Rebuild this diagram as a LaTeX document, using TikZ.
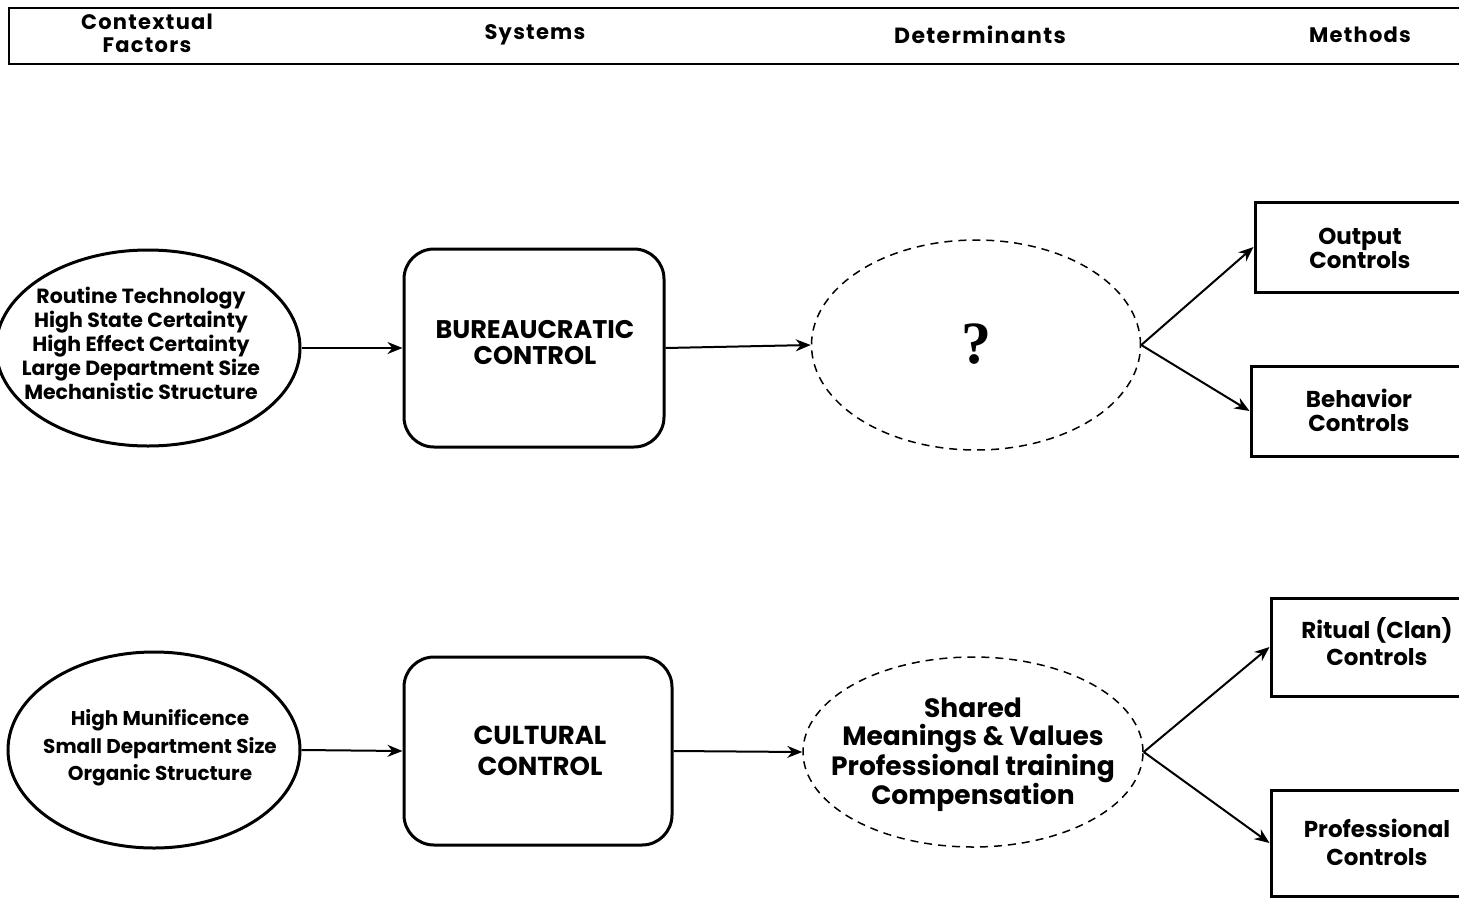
\documentclass[tikz,border=0pt]{standalone}
\usepackage{fontspec}
\setmainfont{Poppins}
\newfontfamily\qfont{Liberation Serif}
\newfontfamily\widefont[LetterSpace=6]{Poppins}
\usetikzlibrary{shapes.geometric,arrows.meta}
\tikzset{
  txt/.style={inner sep=0, align=center},
  hdr/.style={txt, font=\widefont\bfseries\fontsize{21}{23}\selectfont},
  ctx/.style={ellipse, draw, line width=3pt, inner sep=0},
  ctxtext/.style={txt, font=\bfseries\fontsize{20.5}{24}\selectfont},
  sysbox/.style={draw, line width=3pt, rounded corners=30pt, inner sep=0},
  systext/.style={txt, font=\bfseries\fontsize{25.5}{26}\selectfont},
  det/.style={ellipse, draw, dashed, dash pattern=on 8pt off 6pt, line width=1.5pt, inner sep=0},
  meth/.style={draw, line width=3pt, inner sep=0},
  methtext/.style={txt, font=\bfseries\fontsize{23}{24}\selectfont},
  arr/.style={line width=2pt, -{Stealth[length=15pt,width=12pt]}},
}
\begin{document}
\begin{tikzpicture}[x=1pt,y=-1pt]
\useasboundingbox (0,0) rectangle (1459,900);
\clip (0,0) rectangle (1459,900);
\fill[white] (0,0) rectangle (1459,900);
% header
\draw[line width=1.5pt] (1470,8) -- (9,8) -- (9,64) -- (1470,64);
\node[hdr] (h1) at (147,33.5) {Contextual\\Factors};
\node[hdr] (h2) at (535,35) {Systems};
\node[hdr, font=\widefont\bfseries\fontsize{22}{23}\selectfont] (h3) at (980,35) {Determinants};
\node[hdr] (h4) at (1360,35) {Methods};
% top row
\node[ctx, minimum width=304pt, minimum height=196pt] (e1) at (148,348) {};
\node[ctxtext] (e1t) at (141,343.5)
  {Routine Technology\\High State Certainty\\High Effect Certainty\\Large Department Size\\Mechanistic Structure};
\node[sysbox, minimum width=260pt, minimum height=198pt] (b1) at (534,348) {};
\node[systext] (b1t) at (535,343) {BUREAUCRATIC\\CONTROL};
\node[det, minimum width=329pt, minimum height=210pt] (d1) at (976,345) {};
\node[txt, font=\qfont\bfseries\fontsize{60}{60}\selectfont] (d1t) at (976,344) {?};
\node[meth, minimum width=211pt, minimum height=90pt] (m1) at (1360.5,247) {};
\node[methtext] (m1t) at (1360,248.5) {Output\\Controls};
\node[meth, minimum width=215pt, minimum height=90pt] (m2) at (1358.5,411) {};
\node[methtext] (m2t) at (1359,410) {Behavior\\Controls};
% bottom row
\node[ctx, minimum width=292pt, minimum height=196pt] (e2) at (154,750) {};
\node[ctxtext, font=\bfseries\fontsize{20}{27.5}\selectfont] (e2t) at (160,748)
  {High Munificence\\Small Department Size\\Organic Structure};
\node[sysbox, minimum width=268pt, minimum height=188pt] (b2) at (538,751) {};
\node[systext, font=\bfseries\fontsize{26}{31}\selectfont] (b2t) at (540,750.5) {CULTURAL\\CONTROL};
\node[det, minimum width=340pt, minimum height=190pt] (d2) at (973,752) {};
\node[txt, font=\bfseries\fontsize{26.5}{28}\selectfont] (d2t) at (973,755)
  {Shared\\Meanings \& Values\\Professional training\\Compensation};
\node[meth, minimum width=212pt, minimum height=98pt] (m3) at (1377,647) {};
\node[methtext, font=\bfseries\fontsize{23}{27}\selectfont] (m3t) at (1377,642) {Ritual (Clan)\\Controls};
\node[meth, minimum width=212pt, minimum height=106pt] (m4) at (1377,843) {};
\node[methtext, font=\bfseries\fontsize{23}{28}\selectfont] (m4t) at (1377,842) {Professional\\Controls};
% connectors
\draw[arr] (e1.east) -- (b1.west);
\draw[arr] (b1.east) -- (d1.west);
\draw[arr] (d1.east) -- (m1.west);
\draw[arr] (d1.east) -- (m2.west);
\draw[arr] (e2.east) -- (b2.west);
\draw[arr] (b2.east) -- (d2.west);
\draw[arr] (d2.east) -- (m3.west);
\draw[arr] (d2.east) -- (m4.west);
\end{tikzpicture}
\end{document}
